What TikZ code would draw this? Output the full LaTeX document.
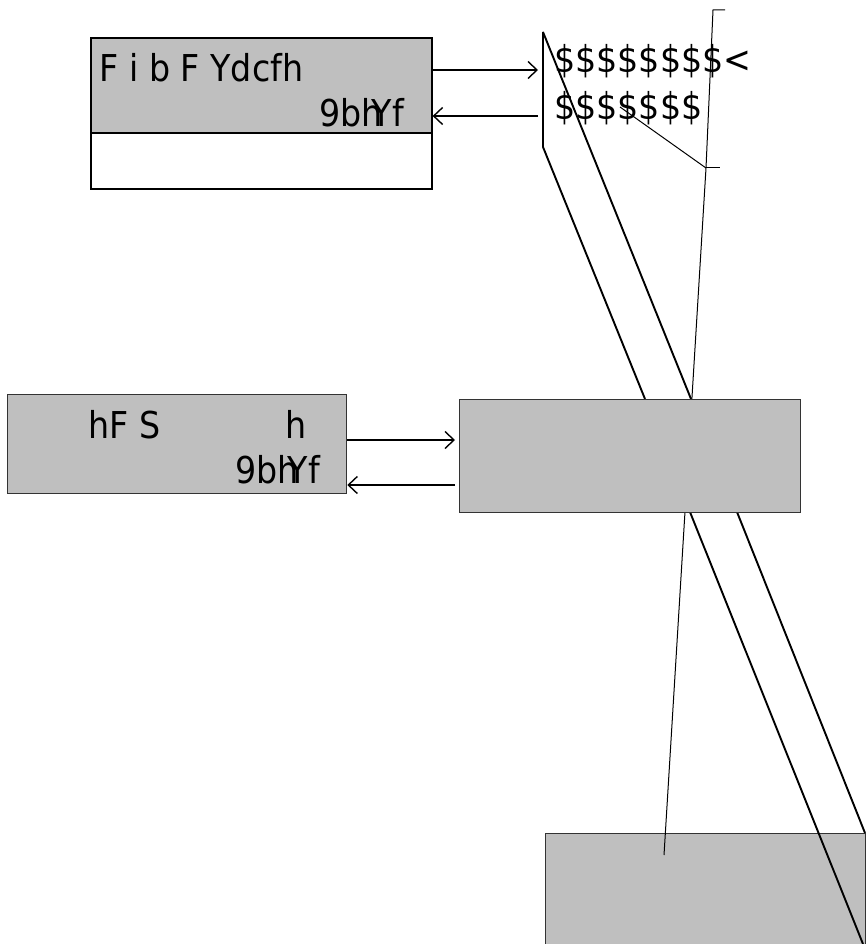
\documentclass[tikz,border=0pt]{standalone}
\usepackage{fontspec}
\setmainfont{DejaVu Sans Condensed}
\usetikzlibrary{arrows.meta}
\newcommand\lblsize{\fontsize{37}{44}\selectfont}
\newcommand\entword{9bh\kern-0.3em Y\kern0.02em f}
\tikzset{
  gbox/.style={rectangle, draw=black!80, line width=1.3pt, fill=gray!50, inner sep=0pt, anchor=north west},
  wbox/.style={rectangle, draw=black, line width=1.6pt, fill=white, inner sep=0pt, anchor=north west},
  lbl/.style={font=\lblsize, inner sep=0pt, anchor=base west},
  conn/.style={line width=1.5pt, -{Straight Barb[length=9pt,width=17pt,line width=1.4pt]}},
  edgeline/.style={line width=1.9pt, line join=miter},
  thinline/.style={line width=1pt},
}
\begin{document}
\begin{tikzpicture}[x=1pt,y=-1pt]
\useasboundingbox (0,0) rectangle (866,944);
% bottom box (runs off the page)
\begin{scope}
  \clip (0,0) rectangle (866,944);
  \node[gbox, minimum width=320pt, minimum height=140pt] (low) at (545,833) {};
\end{scope}
% coordinates of the slanted strip and callout
\coordinate (s1) at (543,32);
\coordinate (s2) at (543,147);
\coordinate (m1) at (645,399);
\coordinate (m2) at (691,399);
\coordinate (n1) at (690,512);
\coordinate (n2) at (737,512);
\coordinate (e1) at (863,944);
\coordinate (e2) at (865,833);
\coordinate (t0) at (725,10);
\coordinate (t1) at (713,10);
\coordinate (t2) at (706,168);
\coordinate (t3) at (720,168);
\coordinate (t4) at (664,855);
\coordinate (q0) at (620,107);
\coordinate (a1) at (538,70);
\coordinate (a2) at (538,116);
\coordinate (b1) at (455,440);
\coordinate (b2) at (455,485);
% strip edges
\draw[edgeline] (s1) -- (s2) -- (m1);
\draw[edgeline] (s1) -- (m2);
\draw[edgeline] (n1) -- (e1);
\draw[edgeline] (n2) -- (e2);
% callout line
\draw[thinline] (t0) -- (t1) -- (t2) -- (t4);
\draw[thinline] (t2) -- (t3);
% middle box
\node[gbox, minimum width=341pt, minimum height=113pt] (mid) at (459,399) {};
% top object
\node[gbox, draw=black, line width=1.6pt, minimum width=341pt, minimum height=95pt] (obj) at (90,37) {};
\node[wbox, minimum width=341pt, minimum height=56pt] (objlow) at (90,132) {};
\node[lbl] (objname) at (99.5,82) {F i b F Ydcfh};
\node[lbl] (objent) at (319,127) {\entword};
% left box
\node[gbox, minimum width=339pt, minimum height=99pt] (left) at (7,394) {};
\node[lbl] (leftname) at (88,438) {hF S};
\node[lbl] (lefth) at (285,438) {h};
\node[lbl] (leftent) at (235,483) {\entword};
% strip texts
\node[lbl] (d1) at (554,73) {\$\$\$\$\$\$\$\$<};
\node[lbl] (d2) at (554,120) {\$\$\$\$\$\$\$};
\draw[thinline] (q0) -- (t2);
% arrows
\draw[conn] (obj.east |- a1) -- (a1);
\draw[conn] (a2) -- (obj.east |- a2);
\draw[conn] (left.east |- b1) -- (b1);
\draw[conn] (b2) -- (left.east |- b2);
\end{tikzpicture}
\end{document}
